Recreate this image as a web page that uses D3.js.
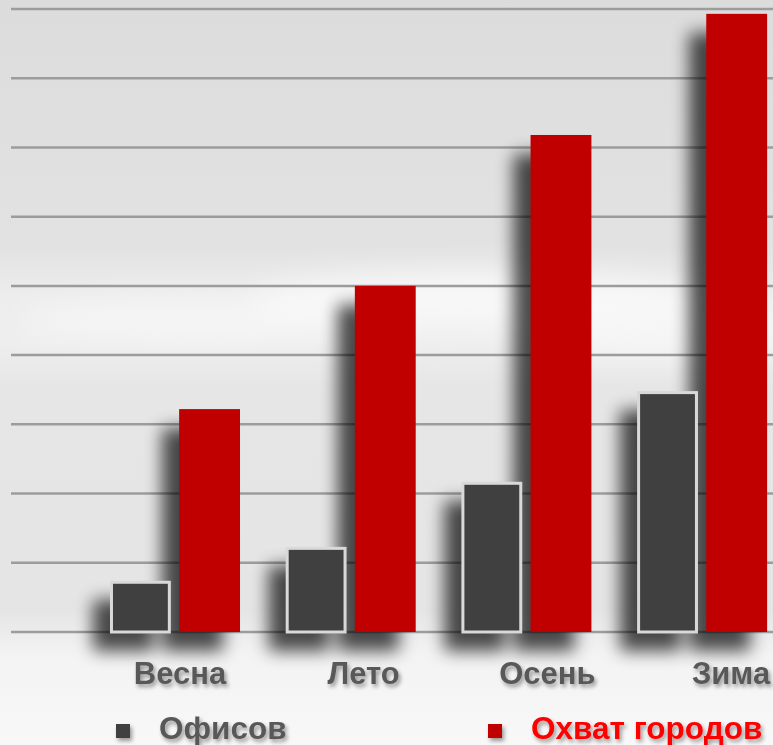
<!DOCTYPE html>
<html lang="ru">
<head>
  <meta charset="utf-8">
  <title>Офисы и охват городов</title>
  <script src="https://cdn.jsdelivr.net/npm/d3@7"></script>
  <style>
    * { margin: 0; padding: 0; box-sizing: border-box; }
    body { background: #f2f2f2; overflow: hidden; font-family: "Liberation Sans", Arial, sans-serif; }
    svg { display: block; }
  </style>
</head>
<body>
  <svg id="chart" width="773" height="745"></svg>
  <script>
    // values
    const seasons = ["Весна", "Лето", "Осень", "Зима"];
    const seriesNames = ["Офисов", "Охват городов"];
    const offices = [7.4, 12.3, 21.7, 34.8];
    const cities = [32.2, 50, 71.8, 89.3];
    const yTicks = [0, 10, 20, 30, 40, 50, 60, 70, 80, 90];

    const COLORS = { "Офисов": "#404040", "Охват городов": "#c00000" };
    const LEGEND_TEXT = { "Офисов": "#595959", "Охват городов": "#ff0000" };

    const width = 773, height = 745;
    const svg = d3.select("#chart");
    const defs = svg.append("defs");

    // background: grey sky, lighter cloud band, white near the bottom
    const bg = defs.append("linearGradient").attr("id", "bg")
      .attr("x1", 0).attr("y1", 0).attr("x2", 0).attr("y2", 1);
    [[0, "#dcdcdc"], [0.33, "#e2e2e2"], [0.4, "#ededed"], [0.46, "#eeeeee"],
     [0.52, "#e6e6e6"], [0.82, "#e5e5e5"], [0.88, "#f3f3f3"], [1, "#f8f8f8"]]
      .forEach(([o, c]) => bg.append("stop").attr("offset", o).attr("stop-color", c));

    const cloudBlur = defs.append("filter").attr("id", "cloud")
      .attr("x", "-50%").attr("y", "-50%").attr("width", "200%").attr("height", "200%");
    cloudBlur.append("feGaussianBlur").attr("stdDeviation", 14);

    // shadow only: bars are drawn on top in a separate layer
    const shadow = defs.append("filter").attr("id", "shadow")
      .attr("filterUnits", "userSpaceOnUse")
      .attr("x", -60).attr("y", -60).attr("width", 900).attr("height", 860);
    shadow.append("feGaussianBlur").attr("in", "SourceAlpha").attr("stdDeviation", 8.5).attr("result", "b");
    shadow.append("feOffset").attr("in", "b").attr("dx", -17).attr("dy", 19).attr("result", "o");
    shadow.append("feComponentTransfer").attr("in", "o")
      .append("feFuncA").attr("type", "linear").attr("slope", 0.7);

    const textShadow = defs.append("filter").attr("id", "tshadow")
      .attr("x", "-10%").attr("y", "-30%").attr("width", "130%").attr("height", "180%");
    textShadow.append("feGaussianBlur").attr("in", "SourceAlpha").attr("stdDeviation", 2).attr("result", "b");
    textShadow.append("feOffset").attr("in", "b").attr("dx", 2).attr("dy", 3).attr("result", "o");
    textShadow.append("feComponentTransfer").attr("in", "o").attr("result", "s")
      .append("feFuncA").attr("type", "linear").attr("slope", 0.4);
    const tm = textShadow.append("feMerge");
    tm.append("feMergeNode").attr("in", "s");
    tm.append("feMergeNode").attr("in", "SourceGraphic");

    svg.append("rect").attr("width", width).attr("height", height).attr("fill", "url(#bg)");

    // soft clouds in the middle band
    const clouds = svg.append("g").attr("filter", "url(#cloud)").attr("fill", "#fafafa");
    clouds.append("ellipse").attr("cx", 480).attr("cy", 300).attr("rx", 230).attr("ry", 28).attr("opacity", 0.8);
    clouds.append("ellipse").attr("cx", 200).attr("cy", 320).attr("rx", 180).attr("ry", 22).attr("opacity", 0.6);
    clouds.append("ellipse").attr("cx", 660).attr("cy", 330).attr("rx", 140).attr("ry", 30).attr("opacity", 0.6);

    const y = d3.scaleLinear().domain([0, 90]).range([632, 9]);

    const x0 = d3.scaleBand().domain(seasons).range([64.3, 812.8]).padding(0.26);
    const x1 = d3.scaleBand().domain(seriesNames).range([0, x0.bandwidth()]).paddingInner(0.12);
    // category labels sit a little right of the bar groups
    const xLabel = d3.scalePoint().domain(seasons).range([180, 731]);

    // gridlines
    svg.append("g")
      .selectAll("line")
      .data(yTicks)
      .join("line")
      .attr("x1", 11).attr("x2", width)
      .attr("y1", (d) => y(d)).attr("y2", (d) => y(d))
      .attr("stroke", "#9c9c9c")
      .attr("stroke-width", 2.5);

    const bars = seasons.flatMap((s, i) => [
      { season: s, key: "Офисов", value: offices[i] },
      { season: s, key: "Охват городов", value: cities[i] },
    ]);

    const inset = (d) => d.key === "Офисов" ? 1.5 : 0;
    const barX = (d) => x0(d.season) + x1(d.key);

    // shadow layer
    svg.append("g")
      .attr("filter", "url(#shadow)")
      .selectAll("rect")
      .data(bars)
      .join("rect")
      .attr("x", barX)
      .attr("width", x1.bandwidth())
      .attr("y", (d) => y(d.value))
      .attr("height", (d) => y(0) - y(d.value))
      .attr("fill", "#000");

    // bar layer
    svg.append("g")
      .selectAll("rect")
      .data(bars)
      .join("rect")
      .attr("x", (d) => barX(d) + inset(d))
      .attr("width", (d) => x1.bandwidth() - 2 * inset(d))
      .attr("y", (d) => y(d.value) + inset(d))
      .attr("height", (d) => y(0) - y(d.value) - inset(d))
      .attr("fill", (d) => COLORS[d.key])
      .attr("stroke", (d) => d.key === "Офисов" ? "#d9d9d9" : "none")
      .attr("stroke-width", 3);

    // category labels
    svg.append("g")
      .attr("filter", "url(#tshadow)")
      .selectAll("text")
      .data(seasons)
      .join("text")
      .attr("x", (d) => xLabel(d))
      .attr("y", 684)
      .attr("text-anchor", "middle")
      .attr("font-size", 31)
      .attr("font-weight", "bold")
      .attr("fill", "#595959")
      .text((d) => d);

    // legend
    const legendX = { "Офисов": 116, "Охват городов": 488 };
    const legend = svg.append("g").attr("filter", "url(#tshadow)")
      .selectAll("g")
      .data(seriesNames)
      .join("g")
      .attr("transform", (d) => `translate(${legendX[d]},739)`);
    legend.append("rect")
      .attr("x", 0).attr("y", -15).attr("width", 14).attr("height", 14)
      .attr("fill", (d) => COLORS[d]);
    legend.append("text")
      .attr("x", 43).attr("y", 0)
      .attr("font-size", 31.5)
      .attr("font-weight", "bold")
      .attr("fill", (d) => LEGEND_TEXT[d])
      .text((d) => d);
  </script>
</body>
</html>
